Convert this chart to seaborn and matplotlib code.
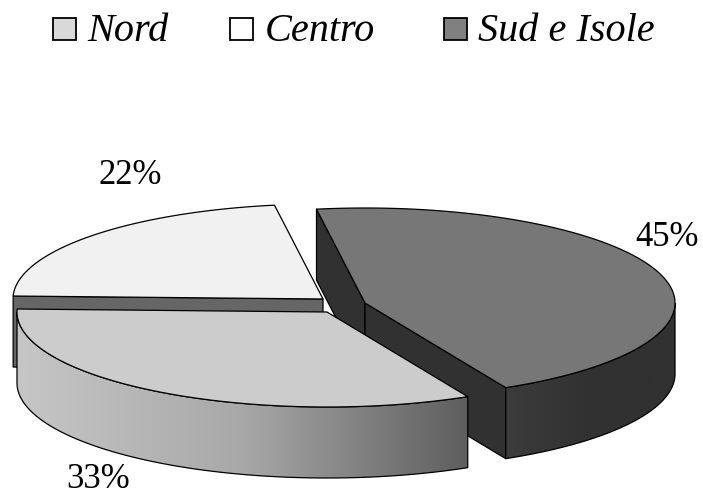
import numpy as np
import matplotlib
matplotlib.use("Agg")
import matplotlib.pyplot as plt
from matplotlib.patches import Polygon, Rectangle
import seaborn as sns

# Survey shares by macro-area
areas = ["Sud e Isole", "Nord", "Centro"]
shares = [45, 33, 22]
legend_order = ["Nord", "Centro", "Sud e Isole"]
legend_colors = ["#d9d9d9", "#ffffff", "#808080"]
legend_box_x = [53, 230, 444]
legend_text_x = [87, 265, 478]

top_colors = {"Sud e Isole": "#777777", "Nord": "#cccccc", "Centro": "#f1f1f1"}
apex = {"Sud e Isole": (365, 303), "Nord": (327, 312), "Centro": (323, 299)}
label_pos = {"Sud e Isole": (667, 246), "Nord": (98, 488), "Centro": (130, 184)}
side_ramps = {
    "Sud e Isole": ["#3c3c3c", "#313131", "#313131"],
    "Nord": ["#c6c6c6", "#a8a8a8", "#5e5e5e"],
}

RX, RY, DEPTH = 310, 95, 71
START = 99.0

sns.set_theme(style="white")
plt.rcParams["font.family"] = ["Liberation Serif", "DejaVu Serif"]

fig = plt.figure(figsize=(7.03, 4.96), dpi=100)
ax = fig.add_axes([0, 0, 1, 1])
ax.set_axis_off()


def rim(center, a0, a1, drop=0, n=160):
    """Points along the ellipse between two angles, in degrees."""
    t = np.radians(np.linspace(a0, a1, n))
    return np.column_stack([center[0] + RX * np.cos(t),
                            center[1] - RY * np.sin(t) + drop])


def flat_face(points, color, z):
    ax.add_patch(Polygon(points, closed=True, facecolor=color, edgecolor="black",
                         linewidth=0.9, joinstyle="round", zorder=z))


def cut_face(center, angle, color, z):
    """Vertical radial wall of a slice."""
    edge = rim(center, angle, angle, n=1)[0]
    flat_face([edge, center, (center[0], center[1] + DEPTH), (edge[0], edge[1] + DEPTH)], color, z)


def shaded_side(center, a0, a1, ramp, z):
    """Outer wall of a slice, shaded from left to right."""
    upper = rim(center, a0, a1)
    lower = rim(center, a1, a0, DEPTH)
    outline = np.vstack([upper, lower])
    cmap = sns.blend_palette(ramp, as_cmap=True)
    left, right = outline[:, 0].min(), outline[:, 0].max()
    image = ax.imshow(np.linspace(0, 1, 256)[None, :], cmap=cmap, aspect="auto", vmin=0, vmax=1,
                      extent=(left, right, outline[:, 1].max(), outline[:, 1].min()), zorder=z)
    wall = Polygon(outline, closed=True, facecolor="none", edgecolor="black",
                   linewidth=0.9, zorder=z + 0.1)
    ax.add_patch(wall)
    image.set_clip_path(wall)


# Slice angles run clockwise from the start angle
sweeps = 360 * np.array(shares) / sum(shares)
ends = START - np.cumsum(sweeps)
starts = ends + sweeps
angles = {name: (s, e) for name, s, e in zip(areas, starts, ends)}

# Centro sits at the back, Sud e Isole next, Nord in front
c = apex["Centro"]
s, e = angles["Centro"]
cut_face(c, s, "#666666", 1)
flat_face(np.vstack([[c], rim(c, s, e)]), top_colors["Centro"], 2)

c = apex["Sud e Isole"]
s, e = angles["Sud e Isole"]
cut_face(c, s, "#313131", 3)
cut_face(c, e, "#313131", 3)
shaded_side(c, e, 0, side_ramps["Sud e Isole"], 3.5)
flat_face(np.vstack([[c], rim(c, s, e)]), top_colors["Sud e Isole"], 4)

c = apex["Nord"]
s, e = angles["Nord"]
shaded_side(c, -180, s, side_ramps["Nord"], 5)
flat_face(np.vstack([[c], rim(c, s, e)]), top_colors["Nord"], 6)

ax.set_xlim(0, 703)
ax.set_ylim(496, 0)

for name, share in zip(areas, shares):
    x, y = label_pos[name]
    ax.text(x, y, f"{share}%", ha="center", va="baseline", fontsize=25, color="black", zorder=8)

# Legend row along the top edge
for name, color, bx, tx in zip(legend_order, legend_colors, legend_box_x, legend_text_x):
    ax.add_patch(Rectangle((bx, 18), 23, 22, facecolor=color, edgecolor="black",
                           linewidth=1.3, zorder=8))
    ax.text(tx, 41, name, ha="left", va="baseline", fontsize=29, style="italic",
            color="black", zorder=8)

fig.savefig("out.png", dpi=100, facecolor="white")
